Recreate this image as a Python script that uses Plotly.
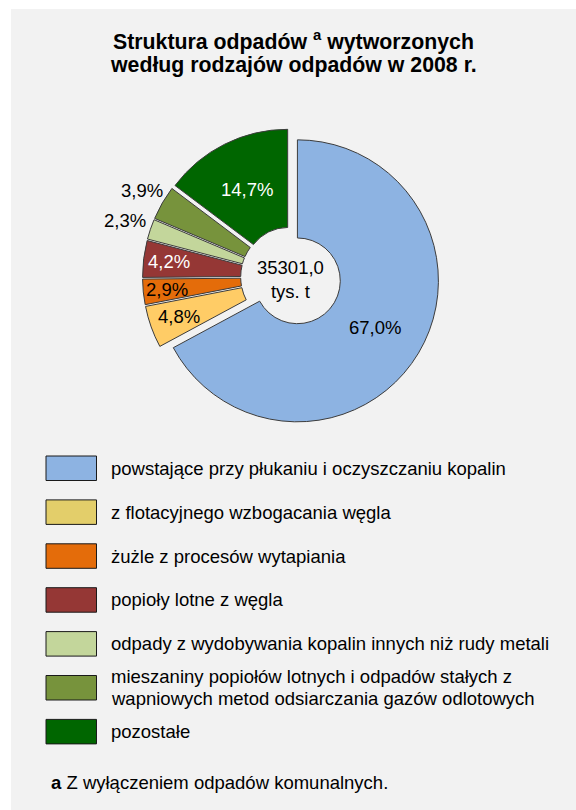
import math
import plotly.graph_objects as go

# ---------------- data ----------------
categories = [
    "powstające przy płukaniu i oczyszczaniu kopalin",
    "z flotacyjnego wzbogacania węgla",
    "żużle z procesów wytapiania",
    "popioły lotne z węgla",
    "odpady z wydobywania kopalin innych niż rudy metali",
    "mieszaniny popiołów lotnych i odpadów stałych z\nwapniowych metod odsiarczania gazów odlotowych",
    "pozostałe",
]
values = [67.0, 4.8, 2.9, 4.2, 2.3, 3.9, 14.7]
total_text = "35301,0"
total_unit = "tys. t"
title_line1 = "Struktura odpadów <sup>a</sup> wytworzonych"
title_line2 = "według rodzajów odpadów w 2008 r."
footnote_mark = "a"
footnote_text = "Z wyłączeniem odpadów komunalnych."

# ---------------- styles ----------------
slice_colors = ["#8DB3E2", "#FFCC66", "#E46C0A", "#953735", "#C3D69B", "#77933C", "#006600"]
legend_colors = ["#8DB3E2", "#E3CE6A", "#E46C0A", "#953735", "#C3D69B", "#77933C", "#006600"]
label_colors = ["black", "black", "black", "white", "black", "black", "white"]
label_radius = [0.64, 0.79, 0.83, 0.82, 1.19, 1.17, 0.64]  # fraction of radius from slice origin

W, H = 576, 810
FONT = "Arial, Liberation Sans, sans-serif"
FS = 18.5

# pie geometry (pixels)
cx, cy, R = 291.0, 277.0, 141.0
PULL = 0.053
HOLE = 0.304
half = R * (1 + PULL)
dom_x = [(cx - half) / W, (cx + half) / W]
y0 = 1 - (cy + half) / H
dom_y = [y0, y0 + 2 * half / H]


def px(x):
    return x / W


def py(y):
    return 1 - y / H


fig = go.Figure()
fig.add_trace(go.Pie(
    values=values,
    labels=[c.replace("\n", " ") for c in categories],
    sort=False,
    direction="clockwise",
    rotation=0,
    hole=HOLE,
    pull=PULL,
    textinfo="none",
    marker=dict(colors=slice_colors, line=dict(color="#3c3c3c", width=1)),
    domain=dict(x=dom_x, y=dom_y),
    showlegend=False,
    hoverinfo="label+percent",
))

annotations = []
shapes = []

# gray panel
shapes.append(dict(type="rect", xref="paper", yref="paper", x0=px(11), x1=1.0, y0=0.0, y1=py(9),
                   fillcolor="#F2F2F2", line=dict(width=0), layer="below"))

# slice labels
total = sum(values)
cum = 0.0
for i, v in enumerate(values):
    mid = (cum + v / 2) / total * 2 * math.pi
    cum += v
    s, c = math.sin(mid), -math.cos(mid)
    ox, oy = cx + PULL * R * s, cy + PULL * R * c
    lx, ly = ox + label_radius[i] * R * s, oy + label_radius[i] * R * c
    annotations.append(dict(
        x=px(lx), y=py(ly), xref="paper", yref="paper", showarrow=False,
        text=f"{v:.1f}%".replace(".", ","),
        font=dict(family=FONT, size=FS, color=label_colors[i]),
        xanchor="center", yanchor="middle",
    ))

# center text
annotations.append(dict(
    x=px(290), y=py(279.5), xref="paper", yref="paper", showarrow=False,
    text=f"{total_text}<br>{total_unit}",
    font=dict(family=FONT, size=FS, color="black"),
    xanchor="center", yanchor="middle",
))

# title
for t, yy in ((title_line1, 40), (title_line2, 65.5)):
    annotations.append(dict(
        x=px(293.5), y=py(yy), xref="paper", yref="paper", showarrow=False,
        text=f"<b>{t}</b>",
        font=dict(family=FONT, size=21.3, color="black"),
        xanchor="center", yanchor="middle",
    ))

# legend
box_x0, box_x1 = 46, 96.5
box_h = 24.5
top0 = 456.0
pitch = 43.9
text_x = 108.5
line_gap = 22
for i, cat in enumerate(categories):
    top = top0 + i * pitch
    shapes.append(dict(type="rect", xref="paper", yref="paper",
                       x0=px(box_x0), x1=px(box_x1), y0=py(top + box_h), y1=py(top),
                       fillcolor=legend_colors[i], line=dict(color="#1a1a1a", width=1)))
    lines = cat.split("\n")
    ymid = top + box_h / 2
    n = len(lines)
    for j, ln in enumerate(lines):
        yy = ymid + (j - (n - 1) / 2) * line_gap
        annotations.append(dict(
            x=px(text_x), y=py(yy), xref="paper", yref="paper", showarrow=False,
            text=ln, font=dict(family=FONT, size=FS, color="black"),
            xanchor="left", yanchor="middle",
        ))

# footnote
annotations.append(dict(
    x=px(49), y=py(782.5), xref="paper", yref="paper", showarrow=False,
    text=f"<b>{footnote_mark}</b> {footnote_text}",
    font=dict(family=FONT, size=FS, color="black"),
    xanchor="left", yanchor="middle",
))

fig.update_layout(
    width=W, height=H,
    margin=dict(l=0, r=0, t=0, b=0),
    paper_bgcolor="white",
    plot_bgcolor="white",
    annotations=annotations,
    shapes=shapes,
)

fig.write_html("out.html", config={"displayModeBar": False},
               post_script="document.body.style.margin='0';")
